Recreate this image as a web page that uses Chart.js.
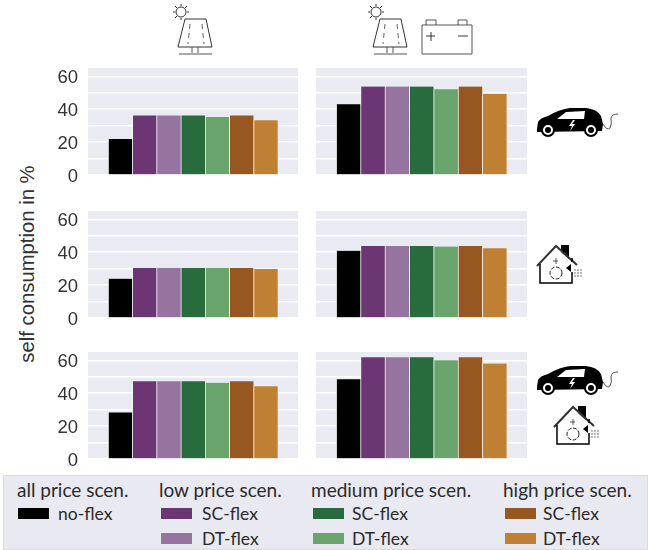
<!DOCTYPE html>
<html>
<head>
<meta charset="utf-8">
<script src="https://cdn.jsdelivr.net/npm/chart.js@4/dist/chart.umd.min.js"></script>
<style>
    html, body { margin: 0; padding: 0; background: #fff; }
    #page { position: relative; width: 648px; height: 550px; overflow: hidden; }
    #page canvas { position: absolute; }
    #icons { position: absolute; left: 0; top: 0; }
    #ylabel {
        position: absolute; left: 27px; top: 264px;
        transform: translate(-50%, -50%) rotate(-90deg);
        font: 20.3px "Liberation Sans", Arial, sans-serif; color: #333; white-space: nowrap;
    }
    #legend {
        position: absolute; left: 3px; top: 475px; width: 645px; height: 75px;
        background: #e9e9f1; border: 1px solid #dcdcdc; box-sizing: border-box;
        font: 17.5px Lato, "Open Sans", sans-serif; color: #2b2b2b;
    }
    #legend span { position: absolute; white-space: nowrap; line-height: 20px; }
    #legend span.head { font-size: 19px; }
    #legend i { position: absolute; width: 31px; height: 11px; }
</style>
</head>
<body>
<div id="page">
    <svg id="icons" width="648" height="550" fill="none" stroke="#333" stroke-width="1">
        <defs>
            <g id="solar">
                <circle cx="181" cy="12" r="5"/>
                <path d="M181 4v2M181 18v2M173 12h2M187 12h2M175 6l2 2M187 6l-2 2M175 18l2-2"/>
                <path d="M185 19H206L212 47H178Z"/>
                <path d="M192 47v6M198 47v6M179 54H212" stroke="#555"/>
                <path d="M190 24l-2 20M202 24l2 20" stroke-dasharray="5 4" stroke="#666"/>
            </g>
            <g id="car">
                <path fill="#000" stroke="none" d="M537 129L538 122Q540 118 548 116Q560 109 570 108L586 108Q597 109 601 116L603 124L602 131L537 132Z"/>
                <path fill="#fff" stroke="none" d="M557 119L566 112L585 111L584 119Z"/>
                <path fill="#fff" stroke="none" d="M573 120L569 126H572L570 131L575 124H572L575 120Z"/>
                <circle cx="548" cy="130" r="6" fill="#fff" stroke="#000" stroke-width="2"/>
                <circle cx="548" cy="130" r="3" fill="#000" stroke="none"/>
                <circle cx="591" cy="130" r="6" fill="#fff" stroke="#000" stroke-width="2"/>
                <circle cx="591" cy="130" r="3" fill="#000" stroke="none"/>
                <path d="M603 124Q607 131 610 128Q612 125 611 118Q612 114 618 114" stroke="#555"/>
            </g>
            <g id="house">
                <path fill="#000" stroke="none" d="M561 245H569V259L561 252Z"/>
                <path d="M537 266L556 246L577 265" stroke="#333" stroke-width="2"/>
                <path d="M540 264V283H572V272M572 262V258" stroke="#000" stroke-width="1.5"/>
                <path d="M571 272L566 268L571 264Z" fill="#000" stroke="none"/>
                <circle cx="556" cy="273" r="6" stroke-dasharray="4 1.5" stroke="#222"/>
                <path d="M556 258v6M553 261h5" stroke="#555"/>
                <path d="M574 270h9M574 273h9M574 276h8" stroke="#777" stroke-dasharray="2 1"/>
            </g>
        </defs>
        <use href="#solar"/>
        <use href="#solar" transform="translate(195,0)"/>
        <path d="M422 25H472V54H422ZM426 25V20H436V25M458 25V20H467V25" stroke="#555"/>
        <path d="M426 36H435M431 32V41M458 36H468" stroke="#333"/>
        <use href="#car"/>
        <use href="#car" transform="translate(0,258)"/>
        <use href="#house"/>
        <use href="#house" transform="translate(17,161)"/>
    </svg>
    <div id="ylabel">self consumption in %</div>
    <div id="legend"></div>
</div>
<script>
var categories = ['no-flex', 'low SC-flex', 'low DT-flex', 'medium SC-flex', 'medium DT-flex', 'high SC-flex', 'high DT-flex'];
var barColors = ['#000000', '#6c3573', '#95749f', '#286b3d', '#68a46c', '#965820', '#c08034'];

// self consumption in %, one list per panel
var pvEv = [21.8, 36.2, 36.2, 36.2, 35.2, 36.2, 33.3];
var pvBatEv = [43, 53.7, 53.7, 53.7, 52.1, 53.7, 49.3];
var pvHeat = [23.9, 30.3, 30.3, 30.3, 30.3, 30.3, 29.7];
var pvBatHeat = [40.8, 43.8, 43.8, 43.8, 43.4, 43.8, 42.4];
var pvEvHeat = [28.3, 47.3, 47.3, 47.3, 46.3, 47.3, 44.2];
var pvBatEvHeat = [48.5, 61.8, 61.8, 61.8, 60, 61.8, 58];

var tickLabels = [0, 20, 40, 60];

var colX = [{left: 36, width: 262}, {left: 316, width: 211}];
var rowY = [{top: 68, bottom: 175}, {top: 211, bottom: 318}, {top: 352, bottom: 459}];

function makePanel(values, col, row) {
    var canvas = document.createElement('canvas');
    var pad = 26;
    var x = colX[col], y = rowY[row];
    var h = y.bottom - y.top;
    canvas.style.left = x.left + 'px';
    canvas.style.top = (y.top - pad) + 'px';
    canvas.style.width = x.width + 'px';
    canvas.style.height = (h + 2 * pad) + 'px';
    canvas.width = x.width;
    canvas.height = h + 2 * pad;
    document.getElementById('page').appendChild(canvas);

    new Chart(canvas, {
        type: 'bar',
        plugins: [{
            id: 'panelBack',
            beforeDraw: function (chart) {
                var a = chart.chartArea;
                chart.ctx.fillStyle = '#eaeaf2';
                chart.ctx.fillRect(a.left, a.top, a.right - a.left, a.bottom - a.top);
            }
        }],
        data: {
            datasets: [{
                label: categories.join(', '),
                data: values.map(function (v, i) { return {x: i, y: v}; }),
                backgroundColor: barColors,
                borderColor: '#ffffff',
                borderWidth: {top: 0, bottom: 0, left: 0.7, right: 0.7},
                categoryPercentage: 1,
                barPercentage: 1
            }]
        },
        options: {
            responsive: false,
            animation: false,
            layout: {padding: {top: pad, bottom: pad, left: 0, right: 0}},
            plugins: {legend: {display: false}, tooltip: {enabled: false}},
            scales: {
                x: {
                    type: 'linear',
                    display: false,
                    offset: false,
                    min: -1.34,
                    max: 7.32,
                    ticks: {stepSize: 1, includeBounds: false}
                },
                y: {
                    min: 0,
                    max: 65,
                    border: {display: false},
                    grid: {color: '#ffffff', lineWidth: 1.4, drawTicks: false},
                    afterFit: function (scale) { scale.width = col === 0 ? 52 : 0; },
                    ticks: {
                        display: col === 0,
                        stepSize: 10,
                        includeBounds: false,
                        padding: 10,
                        labelOffset: 1.5,
                        color: '#333333',
                        font: {family: '"Liberation Sans", Arial, sans-serif', size: 18.5},
                        autoSkip: false,
                        maxRotation: 0,
                        callback: function (v) { return tickLabels.indexOf(v) >= 0 ? v : ''; }
                    }
                }
            }
        }
    });
}

makePanel(pvEv, 0, 0);
makePanel(pvBatEv, 1, 0);
makePanel(pvHeat, 0, 1);
makePanel(pvBatHeat, 1, 1);
makePanel(pvEvHeat, 0, 2);
makePanel(pvBatEvHeat, 1, 2);

// legend, same colours as the bars
var legendHeads = [['all price scen.', 13], ['low price scen.', 155], ['medium price scen.', 307], ['high price scen.', 499]];
var legendRows = [
    ['no-flex', 0, 14, 54, 1],
    ['SC-flex', 1, 157, 198, 1], ['DT-flex', 2, 157, 198, 2],
    ['SC-flex', 3, 309, 348, 1], ['DT-flex', 4, 309, 348, 2],
    ['SC-flex', 5, 501, 539, 1], ['DT-flex', 6, 501, 539, 2]
];
var legend = document.getElementById('legend');
function addText(txt, x, y, cls) {
    var s = document.createElement('span');
    s.textContent = txt;
    s.style.left = x + 'px';
    s.style.top = y + 'px';
    if (cls) s.className = cls;
    legend.appendChild(s);
}
legendHeads.forEach(function (h) { addText(h[0], h[1], 4, 'head'); });
legendRows.forEach(function (r) {
    var y = r[4] === 1 ? 28 : 53;
    var box = document.createElement('i');
    box.style.left = r[2] + 'px';
    box.style.top = (y + 4) + 'px';
    box.style.background = barColors[r[1]];
    legend.appendChild(box);
    addText(r[0], r[3], y);
});
</script>
</body>
</html>
